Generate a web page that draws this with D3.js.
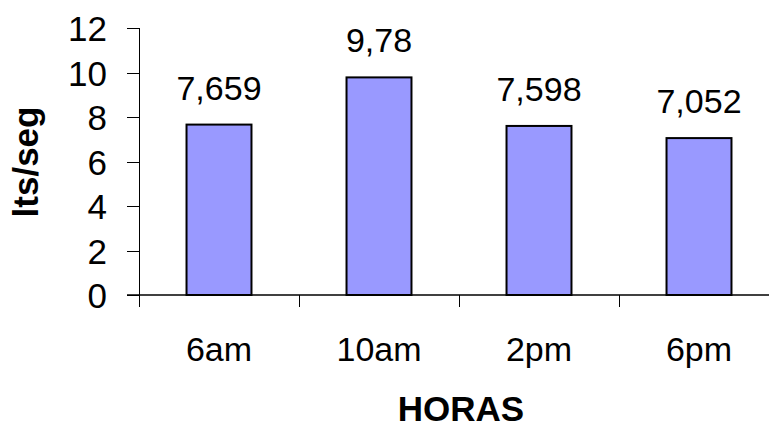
<!DOCTYPE html>
<html>
<head>
<meta charset="utf-8">
<script src="https://cdn.jsdelivr.net/npm/d3@7"></script>
<style>
    body { margin: 0; background: #fff; }
    text { font-family: Arial, "Liberation Sans", sans-serif; fill: #000; }
</style>
</head>
<body>
<div id="chart"></div>
<script>
// Data
var horas = ["6am", "10am", "2pm", "6pm"];
var caudal = [7.659, 9.78, 7.598, 7.052];
var etiquetas = ["7,659", "9,78", "7,598", "7,052"];
var yTicks = [0, 2, 4, 6, 8, 10, 12];

var width = 769, height = 427;
var plot = {left: 139, right: 779, top: 28, bottom: 295};

var svg = d3.select("#chart")
    .append("svg")
    .attr("width", width)
    .attr("height", height);

var x = d3.scaleBand()
    .domain(horas)
    .range([plot.left, plot.right])
    .paddingInner(0.594)
    .paddingOuter(0.297);

var y = d3.scaleLinear()
    .domain([0, 12])
    .range([plot.bottom, plot.top]);

// Y axis
var yAxis = svg.append("g")
    .attr("transform", "translate(" + plot.left + ",0)")
    .call(d3.axisLeft(y).tickValues(yTicks).tickSize(12).tickPadding(20).tickSizeOuter(0));
yAxis.select(".domain").remove();
yAxis.selectAll("line").attr("stroke", "#000").attr("shape-rendering", "crispEdges");
yAxis.selectAll("text")
    .style("font-size", "35px")
    .attr("dy", "0.36em")
    .attr("fill", "#000");

svg.append("line")
    .attr("x1", plot.left).attr("x2", plot.left)
    .attr("y1", y(12)).attr("y2", plot.bottom + 12)
    .attr("stroke", "#000")
    .attr("shape-rendering", "crispEdges");

// X axis
svg.append("line")
    .attr("x1", plot.left - 12).attr("x2", plot.right)
    .attr("y1", plot.bottom).attr("y2", plot.bottom)
    .attr("stroke", "#000")
    .attr("stroke-width", 1.5);

var gap = (x.step() - x.bandwidth()) / 2;
svg.append("g").selectAll("line")
    .data(horas)
    .join("line")
    .attr("x1", d => x(d) + x.bandwidth() + gap)
    .attr("x2", d => x(d) + x.bandwidth() + gap)
    .attr("y1", plot.bottom)
    .attr("y2", plot.bottom + 12)
    .attr("stroke", "#000")
    .attr("shape-rendering", "crispEdges");

svg.append("g").selectAll("text")
    .data(horas)
    .join("text")
    .attr("x", d => x(d) + x.bandwidth() / 2)
    .attr("y", 361)
    .attr("text-anchor", "middle")
    .style("font-size", "34px")
    .text(d => d);

// Bars
svg.append("g").selectAll("rect")
    .data(caudal)
    .join("rect")
    .attr("x", (d, i) => x(horas[i]))
    .attr("y", d => y(d))
    .attr("width", x.bandwidth())
    .attr("height", d => plot.bottom - y(d))
    .attr("fill", "#9999ff")
    .attr("stroke", "#000")
    .attr("stroke-width", 2);

// Value labels
svg.append("g").selectAll("text")
    .data(caudal)
    .join("text")
    .attr("x", (d, i) => x(horas[i]) + x.bandwidth() / 2)
    .attr("y", d => y(d) - 25)
    .attr("text-anchor", "middle")
    .style("font-size", "34px")
    .text((d, i) => etiquetas[i]);

// Axis titles
svg.append("text")
    .attr("x", 461)
    .attr("y", 421)
    .attr("text-anchor", "middle")
    .style("font-size", "35px")
    .style("font-weight", "bold")
    .text("HORAS");

svg.append("text")
    .attr("transform", "translate(38,162) rotate(-90)")
    .attr("text-anchor", "middle")
    .style("font-size", "35px")
    .style("font-weight", "bold")
    .text("lts/seg");
</script>
</body>
</html>
